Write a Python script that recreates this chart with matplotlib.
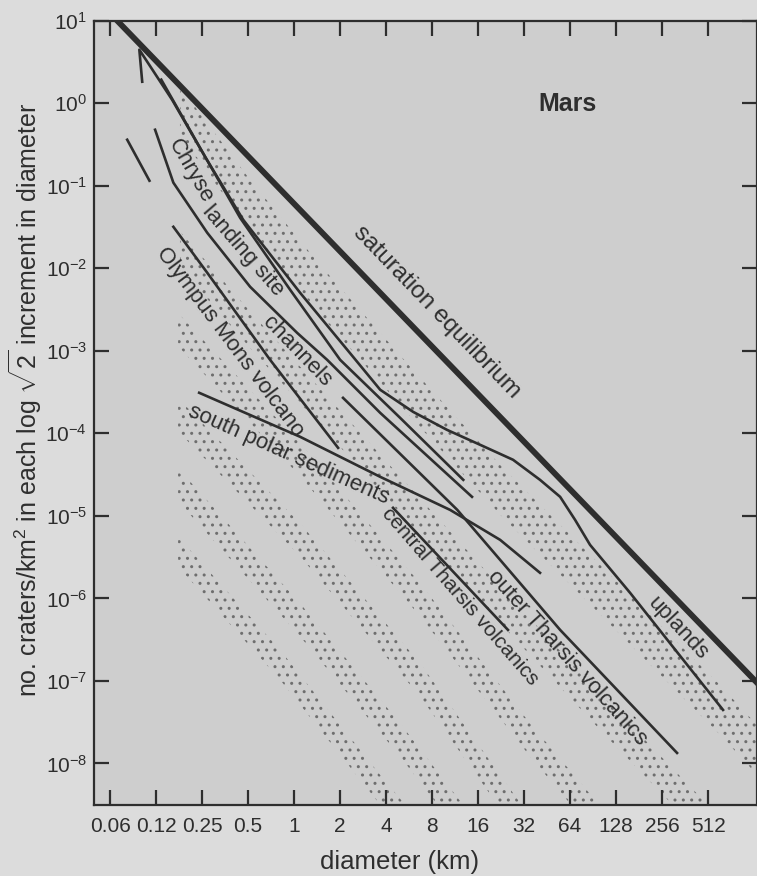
import numpy as np
import matplotlib
matplotlib.use('Agg')
import matplotlib.pyplot as plt
from matplotlib.ticker import FixedLocator, FixedFormatter, NullLocator

plt.rcParams['font.family'] = ['Liberation Sans', 'DejaVu Sans']
plt.rcParams['mathtext.fontset'] = 'custom'
plt.rcParams['mathtext.rm'] = 'Liberation Sans'
plt.rcParams['mathtext.it'] = 'Liberation Sans:italic'
plt.rcParams['mathtext.bf'] = 'Liberation Sans:bold'
plt.rcParams['hatch.linewidth'] = 1.0

# axis ticks
x_ticks = [0.0625, 0.125, 0.25, 0.5, 1, 2, 4, 8, 16, 32, 64, 128, 256, 512]
x_labels = ['0.06', '0.12', '0.25', '0.5', '1', '2', '4', '8', '16', '32', '64', '128', '256', '512']
y_ticks = [1e1, 1e0, 1e-1, 1e-2, 1e-3, 1e-4, 1e-5, 1e-6, 1e-7, 1e-8]

# saturation equilibrium
sat_d = [0.0695, 1071]
sat_n = [10, 9.5e-8]

# crater counts (diameter km, craters/km2)
uplands_d = [0.1013, 0.0970, 0.159, 0.261, 0.464, 1.094, 2.43, 3.66, 6.01, 10.03, 16.5,
             27.1, 40.7, 55.1, 69.0, 86.5, 158, 336, 642]
uplands_n = [1.82, 4.45, 1.10, 0.225, 0.0387, 5.05e-3, 8.46e-4, 3.37e-4, 1.82e-4, 1.10e-4, 7.26e-5,
             4.78e-5, 2.73e-5, 1.70e-5, 8.95e-6, 4.45e-6, 1.17e-6, 2.01e-7, 4.45e-8]

chryse_d = [0.135, 0.242, 0.443, 0.942, 2.0, 4.94, 12.8]
chryse_n = [1.93, 0.289, 0.0409, 5.48e-3, 7.78e-4, 1.54e-4, 2.73e-5]

channels_d = [0.123, 0.162, 0.270, 0.515, 1.046, 1.644, 3.66, 14.6]
channels_n = [0.477, 0.109, 0.0269, 5.97e-3, 1.65e-3, 7.78e-4, 1.77e-4, 1.70e-5]

olympus_d = [0.162, 0.270, 0.696, 1.94]
olympus_n = [0.0318, 8.82e-3, 7.78e-4, 6.67e-5]

polar_d = [0.239, 1.094, 3.66, 10.5, 22.3, 40.7]
polar_n = [3.10e-4, 9.08e-5, 2.97e-5, 1.18e-5, 5.12e-6, 2.04e-6]

central_d = [4.44, 25.1]
central_n = [1.25e-5, 4.15e-7]

outer_d = [2.09, 11.7, 55.1, 321]
outer_n = [2.69e-4, 1.18e-5, 4.15e-7, 1.34e-8]

short_d = [0.0808, 0.113]
short_n = [0.361, 0.115]

# stippled isochron bands (centre lines) and half widths in decades
band1_d = [0.179, 0.515, 1.48, 6.01, 22.3, 101, 614, 1071]
band1_n = [0.789, 0.0589, 5.48e-3, 2.93e-4, 2.07e-5, 1.27e-6, 4.45e-8, 1.46e-8]
band2_d = [0.179, 0.515, 1.094, 4.94, 22.3, 101, 713]
band2_n = [0.0168, 1.80e-3, 3.87e-4, 1.80e-5, 8.34e-7, 4.21e-8, 1e-9]
band3_d = [0.174, 1.094, 6.68, 35.0, 136]
band3_n = [1.80e-3, 4.78e-5, 9.59e-7, 1.93e-8, 1e-9]
band4_d = [0.174, 1.094, 6.68, 40.1]
band4_n = [1.68e-4, 5.12e-6, 1.03e-7, 1e-9]
band5_d = [0.174, 1.094, 4.94, 17.0]
band5_n = [2.38e-5, 5.48e-7, 1.93e-8, 1e-9]
band6_d = [0.174, 0.810, 3.66, 7.42]
band6_n = [3.67e-6, 1.56e-7, 4.78e-9, 1e-9]
band_hw = [0.30, 0.22, 0.2, 0.2, 0.2, 0.18]

ink = '#2e2e2e'

fig = plt.figure(figsize=(7.57, 8.76), dpi=100)
fig.patch.set_facecolor('#dcdcdc')
ax = fig.add_axes([0.1242, 0.0811, 0.8758, 0.8953])
ax.set_facecolor('#cecece')
ax.set_xscale('log')
ax.set_yscale('log')

bands = [(band1_d, band1_n), (band2_d, band2_n), (band3_d, band3_n),
         (band4_d, band4_n), (band5_d, band5_n), (band6_d, band6_n)]
for (bd, bn), hw in zip(bands, band_hw):
    bn = np.array(bn)
    f = 10 ** hw
    ax.fill_between(bd, bn / f, bn * f, facecolor='none', edgecolor='#6e6e6e',
                    hatch='..', linewidth=0, zorder=1)

ax.plot(sat_d, sat_n, color=ink, lw=4.2, zorder=4)
for d, n in [(uplands_d, uplands_n), (chryse_d, chryse_n), (channels_d, channels_n),
             (olympus_d, olympus_n), (polar_d, polar_n), (central_d, central_n),
             (outer_d, outer_n), (short_d, short_n)]:
    ax.plot(d, n, color=ink, lw=1.9, zorder=3)

lab = dict(color=ink, ha='center', va='center', rotation_mode='anchor', zorder=5)
ax.text(8.63, 2.97e-3, 'saturation equilibrium', rotation=-46, fontsize=17.5, **lab)
ax.text(0.209, 0.148, 'Chryse', rotation=-60, fontsize=16, **lab)
ax.text(0.464, 0.0163, 'landing site', rotation=-49, fontsize=16, **lab)
ax.text(1.046, 9.73e-4, 'channels', rotation=-46, fontsize=16, **lab)
ax.text(0.381, 1.29e-3, 'Olympus Mons volcano', rotation=-53, fontsize=16, **lab)
ax.text(0.927, 5.48e-5, 'south polar sediments', rotation=-24, fontsize=16, **lab)
ax.text(12.2, 1.04e-6, 'central Tharsis volcanics', rotation=-49, fontsize=15, **lab)
ax.text(61.2, 1.90e-7, 'outer Tharsis volcanics', rotation=-48, fontsize=16, **lab)
ax.text(326, 4.38e-7, 'uplands', rotation=-47, fontsize=16, **lab)
ax.text(61.2, 0.987, 'Mars', fontsize=18, fontweight='bold', color=ink, ha='center', va='center')

ax.set_xlim(0.049, 1071)
ax.set_ylim(3.14e-9, 10)
ax.xaxis.set_major_locator(FixedLocator(x_ticks))
ax.xaxis.set_major_formatter(FixedFormatter(x_labels))
ax.xaxis.set_minor_locator(NullLocator())
ax.yaxis.set_major_locator(FixedLocator(y_ticks))
ax.yaxis.set_minor_locator(NullLocator())
ax.tick_params(direction='in', length=11, width=1.6, top=True, right=True,
               labelsize=15, colors=ink)
ax.tick_params(axis='x', pad=9)
ax.tick_params(axis='y', pad=5)
for s in ax.spines.values():
    s.set_linewidth(1.6)
    s.set_color(ink)

ax.set_xlabel('diameter (km)', fontsize=18.5, color=ink)
ax.xaxis.set_label_coords(0.4615, -0.0727)
ax.xaxis.label.set_va('center')
ax.set_ylabel(r'no. craters/km$^2$ in each log $\sqrt{2}$ increment in diameter',
              fontsize=18, color=ink)
ax.yaxis.set_label_coords(-0.103, 0.517)
ax.yaxis.label.set_va('center')

fig.savefig('out.png', dpi=100, facecolor=fig.get_facecolor())
